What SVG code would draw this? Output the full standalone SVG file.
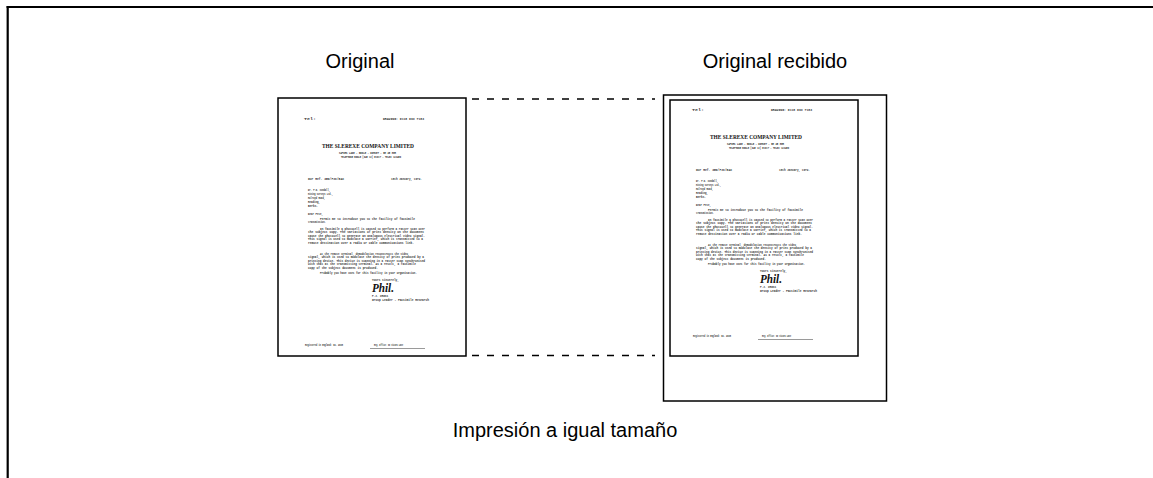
<svg xmlns="http://www.w3.org/2000/svg" width="1153" height="478" viewBox="0 0 1153 478">
<style>
.frame{stroke:#000;stroke-width:2.2;fill:none}
.doc{fill:#fff;stroke:#000;stroke-width:1.5}
.dash{stroke:#000;stroke-width:1.3;stroke-dasharray:7 8;fill:none}
.cap{font-family:"Liberation Sans",Arial,sans-serif;font-size:20px;fill:#000}
.t{font-family:"Liberation Mono","Courier New",monospace;font-size:3.2px;font-weight:bold;fill:#333}
.h{font-family:"Liberation Serif","Times New Roman",serif;font-size:6px;font-weight:bold;fill:#111}
.s{font-family:"Liberation Serif","Times New Roman",serif;font-size:12px;font-style:italic;font-weight:bold;fill:#111}
</style>
<g id="frame">
<line class="frame" x1="6.6" y1="7" x2="1153" y2="7"/>
<line class="frame" x1="7.7" y1="6" x2="7.7" y2="478"/>
</g>
<g id="connectors">
<line class="dash" x1="472" y1="99" x2="655" y2="99"/>
<line class="dash" x1="472" y1="355.5" x2="655" y2="355.5"/>
</g>
<g id="original">
<rect class="doc" x="278" y="98" width="188" height="258"/>
<g id="letter1">
<text class="t" x="304" y="120" textLength="12" lengthAdjust="spacingAndGlyphs">Tel:</text>
<text class="t" x="383" y="120" textLength="41" lengthAdjust="spacingAndGlyphs">DRAWING: 0118 093 7183</text>
<text class="h" x="322" y="148" textLength="92" lengthAdjust="spacingAndGlyphs">THE SLEREXE COMPANY LIMITED</text>
<text class="t" x="339" y="153.5" textLength="57" lengthAdjust="spacingAndGlyphs">SAPORS LANE - BOOLE - DORSET - BH 25 8ER</text>
<text class="t" x="341" y="157.5" textLength="60" lengthAdjust="spacingAndGlyphs">TELEPHONE BOOLE (945 13) 51617 - TELEX 123456</text>
<text class="t" x="308" y="179.5" textLength="36" lengthAdjust="spacingAndGlyphs">Our Ref. 350/PJC/EAC</text>
<text class="t" x="391" y="179.5" textLength="31" lengthAdjust="spacingAndGlyphs">18th January, 1972.</text>
<text class="t" x="308" y="190.5" textLength="22" lengthAdjust="spacingAndGlyphs">Dr. P.N. Cundall,</text>
<text class="t" x="308" y="194.5" textLength="25" lengthAdjust="spacingAndGlyphs">Mining Surveys Ltd.,</text>
<text class="t" x="308" y="198.5" textLength="17" lengthAdjust="spacingAndGlyphs">Holroyd Road,</text>
<text class="t" x="308" y="202.5" textLength="12" lengthAdjust="spacingAndGlyphs">Reading,</text>
<text class="t" x="308" y="206.5" textLength="10" lengthAdjust="spacingAndGlyphs">Berks.</text>
<text class="t" x="308" y="214.5" textLength="15" lengthAdjust="spacingAndGlyphs">Dear Pete,</text>
<text class="t" x="320" y="219.5" textLength="95" lengthAdjust="spacingAndGlyphs">Permit me to introduce you to the facility of facsimile</text>
<text class="t" x="308" y="223.3" textLength="18" lengthAdjust="spacingAndGlyphs">transmission.</text>
<text class="t" x="320" y="230" textLength="105" lengthAdjust="spacingAndGlyphs">In facsimile a photocell is caused to perform a raster scan over</text>
<text class="t" x="308" y="233.4" textLength="116" lengthAdjust="spacingAndGlyphs">the subject copy. The variations of print density on the document</text>
<text class="t" x="308" y="236.8" textLength="117" lengthAdjust="spacingAndGlyphs">cause the photocell to generate an analogous electrical video signal.</text>
<text class="t" x="308" y="240.2" textLength="115" lengthAdjust="spacingAndGlyphs">This signal is used to modulate a carrier, which is transmitted to a</text>
<text class="t" x="308" y="243.6" textLength="106" lengthAdjust="spacingAndGlyphs">remote destination over a radio or cable communications link.</text>
<text class="t" x="320" y="255" textLength="88" lengthAdjust="spacingAndGlyphs">At the remote terminal, demodulation reconstructs the video</text>
<text class="t" x="308" y="258.4" textLength="116" lengthAdjust="spacingAndGlyphs">signal, which is used to modulate the density of print produced by a</text>
<text class="t" x="308" y="261.8" textLength="117" lengthAdjust="spacingAndGlyphs">printing device. This device is scanning in a raster scan synchronised</text>
<text class="t" x="308" y="265.2" textLength="108" lengthAdjust="spacingAndGlyphs">with that at the transmitting terminal. As a result, a facsimile</text>
<text class="t" x="308" y="268.6" textLength="70" lengthAdjust="spacingAndGlyphs">copy of the subject document is produced.</text>
<text class="t" x="320" y="273.5" textLength="97" lengthAdjust="spacingAndGlyphs">Probably you have uses for this facility in your organisation.</text>
<text class="t" x="372" y="280.5" textLength="27" lengthAdjust="spacingAndGlyphs">Yours sincerely,</text>
<text class="s" x="372" y="292" textLength="22" lengthAdjust="spacingAndGlyphs">Phil.</text>
<text class="t" x="372" y="297" textLength="16" lengthAdjust="spacingAndGlyphs">P.J. CROSS</text>
<text class="t" x="372" y="301" textLength="57" lengthAdjust="spacingAndGlyphs">Group Leader - Facsimile Research</text>
<text class="t" x="305" y="345.5" textLength="38" lengthAdjust="spacingAndGlyphs">Registered in England: No. 2038</text>
<text class="t" x="374" y="345.5" textLength="29" lengthAdjust="spacingAndGlyphs">Reg. Office: 60 Vicara Lane</text>
<line x1="370" y1="348.5" x2="425" y2="348.5" stroke="#555" stroke-width="0.6"/>
</g>
</g>
<g id="original-recibido">
<rect class="doc" x="663.5" y="95" width="223" height="306"/>
<rect class="doc" x="670" y="100" width="188" height="256"/>
<g id="letter2" transform="translate(388,-9)">
<text class="t" x="304" y="120" textLength="12" lengthAdjust="spacingAndGlyphs">Tel:</text>
<text class="t" x="383" y="120" textLength="41" lengthAdjust="spacingAndGlyphs">DRAWING: 0118 093 7183</text>
<text class="h" x="322" y="148" textLength="92" lengthAdjust="spacingAndGlyphs">THE SLEREXE COMPANY LIMITED</text>
<text class="t" x="339" y="153.5" textLength="57" lengthAdjust="spacingAndGlyphs">SAPORS LANE - BOOLE - DORSET - BH 25 8ER</text>
<text class="t" x="341" y="157.5" textLength="60" lengthAdjust="spacingAndGlyphs">TELEPHONE BOOLE (945 13) 51617 - TELEX 123456</text>
<text class="t" x="308" y="179.5" textLength="36" lengthAdjust="spacingAndGlyphs">Our Ref. 350/PJC/EAC</text>
<text class="t" x="391" y="179.5" textLength="31" lengthAdjust="spacingAndGlyphs">18th January, 1972.</text>
<text class="t" x="308" y="190.5" textLength="22" lengthAdjust="spacingAndGlyphs">Dr. P.N. Cundall,</text>
<text class="t" x="308" y="194.5" textLength="25" lengthAdjust="spacingAndGlyphs">Mining Surveys Ltd.,</text>
<text class="t" x="308" y="198.5" textLength="17" lengthAdjust="spacingAndGlyphs">Holroyd Road,</text>
<text class="t" x="308" y="202.5" textLength="12" lengthAdjust="spacingAndGlyphs">Reading,</text>
<text class="t" x="308" y="206.5" textLength="10" lengthAdjust="spacingAndGlyphs">Berks.</text>
<text class="t" x="308" y="214.5" textLength="15" lengthAdjust="spacingAndGlyphs">Dear Pete,</text>
<text class="t" x="320" y="219.5" textLength="95" lengthAdjust="spacingAndGlyphs">Permit me to introduce you to the facility of facsimile</text>
<text class="t" x="308" y="223.3" textLength="18" lengthAdjust="spacingAndGlyphs">transmission.</text>
<text class="t" x="320" y="230" textLength="105" lengthAdjust="spacingAndGlyphs">In facsimile a photocell is caused to perform a raster scan over</text>
<text class="t" x="308" y="233.4" textLength="116" lengthAdjust="spacingAndGlyphs">the subject copy. The variations of print density on the document</text>
<text class="t" x="308" y="236.8" textLength="117" lengthAdjust="spacingAndGlyphs">cause the photocell to generate an analogous electrical video signal.</text>
<text class="t" x="308" y="240.2" textLength="115" lengthAdjust="spacingAndGlyphs">This signal is used to modulate a carrier, which is transmitted to a</text>
<text class="t" x="308" y="243.6" textLength="106" lengthAdjust="spacingAndGlyphs">remote destination over a radio or cable communications link.</text>
<text class="t" x="320" y="255" textLength="88" lengthAdjust="spacingAndGlyphs">At the remote terminal, demodulation reconstructs the video</text>
<text class="t" x="308" y="258.4" textLength="116" lengthAdjust="spacingAndGlyphs">signal, which is used to modulate the density of print produced by a</text>
<text class="t" x="308" y="261.8" textLength="117" lengthAdjust="spacingAndGlyphs">printing device. This device is scanning in a raster scan synchronised</text>
<text class="t" x="308" y="265.2" textLength="108" lengthAdjust="spacingAndGlyphs">with that at the transmitting terminal. As a result, a facsimile</text>
<text class="t" x="308" y="268.6" textLength="70" lengthAdjust="spacingAndGlyphs">copy of the subject document is produced.</text>
<text class="t" x="320" y="273.5" textLength="97" lengthAdjust="spacingAndGlyphs">Probably you have uses for this facility in your organisation.</text>
<text class="t" x="372" y="280.5" textLength="27" lengthAdjust="spacingAndGlyphs">Yours sincerely,</text>
<text class="s" x="372" y="292" textLength="22" lengthAdjust="spacingAndGlyphs">Phil.</text>
<text class="t" x="372" y="297" textLength="16" lengthAdjust="spacingAndGlyphs">P.J. CROSS</text>
<text class="t" x="372" y="301" textLength="57" lengthAdjust="spacingAndGlyphs">Group Leader - Facsimile Research</text>
<text class="t" x="305" y="345.5" textLength="38" lengthAdjust="spacingAndGlyphs">Registered in England: No. 2038</text>
<text class="t" x="374" y="345.5" textLength="29" lengthAdjust="spacingAndGlyphs">Reg. Office: 60 Vicara Lane</text>
<line x1="370" y1="348.5" x2="425" y2="348.5" stroke="#555" stroke-width="0.6"/>
</g>
</g>
<g id="labels">
<text class="cap" x="360" y="68" text-anchor="middle">Original</text>
<text class="cap" x="775" y="68" text-anchor="middle">Original recibido</text>
<text class="cap" x="565" y="437" text-anchor="middle">Impresión a igual tamaño</text>
</g>
</svg>
